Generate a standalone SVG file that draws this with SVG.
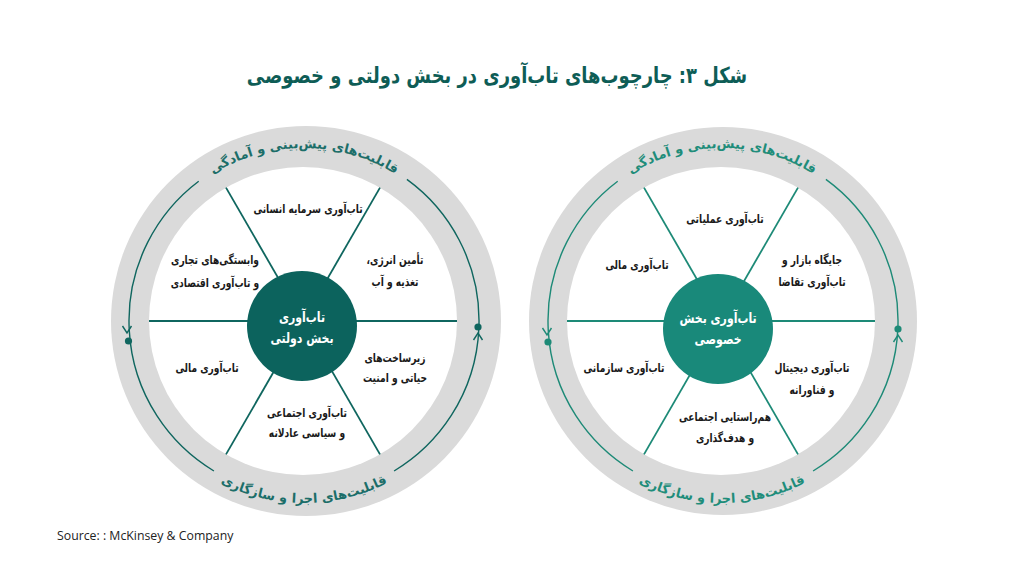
<svg xmlns="http://www.w3.org/2000/svg" width="1024" height="576" viewBox="0 0 1024 576">
<defs>
<style>
.lbl{font-family:"DejaVu Sans","Noto Sans",sans-serif;font-size:12px;font-weight:bold;fill:#1a1a1a;text-anchor:middle;direction:rtl;}
.ctr{font-family:"DejaVu Sans","Noto Sans",sans-serif;font-size:14px;font-weight:bold;fill:#ffffff;text-anchor:middle;direction:rtl;}
.ring{fill:#dadada;}
.white{fill:#ffffff;}
.sp1{stroke:#0f665f;stroke-width:1.8;fill:none;}
.sp2{stroke:#1d8a77;stroke-width:1.8;fill:none;}
.arc1{stroke:#0f665f;stroke-width:1.4;fill:none;}
.arc2{stroke:#1d8a77;stroke-width:1.4;fill:none;}
.rt1{font-family:"DejaVu Sans","Noto Sans",sans-serif;font-size:13px;font-weight:bold;fill:#1c6e69;}
.rt2{font-family:"DejaVu Sans","Noto Sans",sans-serif;font-size:13px;font-weight:bold;fill:#1f8d7a;}
</style>
<path id="top1" d="M 131 321 A 173 173 0 0 1 477 321"/>
<path id="bot1" d="M 122 321 A 182 182 0 0 0 486 321"/>
<path id="top2" d="M 549 321 A 173 173 0 0 1 895 321"/>
<path id="bot2" d="M 540 321 A 182 182 0 0 0 904 321"/>
</defs>
<rect width="1024" height="576" fill="#ffffff"/>
<g id="title" transform="translate(497,83) scale(0.815,1)">
<text x="0" y="0" font-family="DejaVu Sans, sans-serif" font-size="22" font-weight="bold" fill="#0e5d56" text-anchor="middle" direction="rtl">شکل ۳: چارچوب‌های تاب‌آوری در بخش دولتی و خصوصی</text>
</g>

<g id="public">
<circle class="ring" cx="306" cy="321" r="195"/>
<circle class="white" cx="303" cy="321" r="154"/>
<g id="public-spokes">
<line class="sp1" x1="226" y1="187.6" x2="380" y2="454.4"/>
<line class="sp1" x1="380" y1="187.6" x2="226" y2="454.4"/>
<line class="sp1" x1="149" y1="321" x2="457" y2="321"/>
</g>
<g id="public-cycle">
<path class="arc1" d="M 198.7 181.2 A 175 175 0 0 0 213.9 471"/>
<path class="arc1" d="M 394.1 471 A 175 175 0 0 0 406.9 179.4"/>
<polyline class="arc1" points="122.5,326 127,333 131.5,326"/>
<circle cx="128.5" cy="341" r="3.6" fill="#0f665f"/>
<polyline class="arc1" points="473.5,340 478,333 482.5,340"/>
<circle cx="478" cy="327" r="3.6" fill="#0f665f"/>
<text class="rt1" text-anchor="middle"><textPath href="#top1" startOffset="50%">قابلیت‌های پیش‌بینی و آمادگی</textPath></text>
<text class="rt1" text-anchor="middle"><textPath href="#bot1" startOffset="50%">قابلیت‌های اجرا و سازگاری</textPath></text>
</g>
<g id="public-center">
<circle cx="302" cy="326" r="55" fill="#0c635d"/>
<g transform="translate(302,322) scale(0.78,1)"><text class="ctr" x="0" y="0">تاب‌آوری</text></g>
<g transform="translate(302,343) scale(0.78,1)"><text class="ctr" x="0" y="0">بخش دولتی</text></g>
</g>
<g id="public-human" transform="translate(308,213) scale(0.76,1)"><text class="lbl" x="0" y="0">تاب‌آوری سرمایه انسانی</text></g>
<g id="public-energy" transform="translate(395,264) scale(0.76,1)"><text class="lbl" x="0" y="0">تأمین انرژی،</text><text class="lbl" x="0" y="22">تغذیه و آب</text></g>
<g id="public-trade" transform="translate(215,264) scale(0.76,1)"><text class="lbl" x="0" y="0">وابستگی‌های تجاری</text><text class="lbl" x="0" y="23">و تاب‌آوری اقتصادی</text></g>
<g id="public-finance" transform="translate(207,372) scale(0.76,1)"><text class="lbl" x="0" y="0">تاب‌آوری مالی</text></g>
<g id="public-infra" transform="translate(395,362) scale(0.76,1)"><text class="lbl" x="0" y="0">زیرساخت‌های</text><text class="lbl" x="0" y="20">حیاتی و امنیت</text></g>
<g id="public-social" transform="translate(307,417) scale(0.76,1)"><text class="lbl" x="0" y="0">تاب‌آوری اجتماعی</text><text class="lbl" x="0" y="20">و سیاسی عادلانه</text></g>
</g>

<g id="private">
<circle class="ring" cx="723" cy="321" r="194"/>
<circle class="white" cx="721" cy="321" r="154"/>
<g id="private-spokes">
<line class="sp2" x1="644" y1="187.6" x2="798" y2="454.4"/>
<line class="sp2" x1="798" y1="187.6" x2="644" y2="454.4"/>
<line class="sp2" x1="567" y1="321" x2="875" y2="321"/>
</g>
<g id="private-cycle">
<path class="arc2" d="M 617.7 181.2 A 175 175 0 0 0 632.9 471"/>
<path class="arc2" d="M 813.1 471 A 175 175 0 0 0 825.9 179.4"/>
<polyline class="arc2" points="542.5,328 547,335 551.5,328"/>
<circle cx="548" cy="342" r="3.6" fill="#1d8a77"/>
<polyline class="arc2" points="893.5,342 898,335 902.5,342"/>
<circle cx="898" cy="329" r="3.6" fill="#1d8a77"/>
<text class="rt2" text-anchor="middle"><textPath href="#top2" startOffset="50%">قابلیت‌های پیش‌بینی و آمادگی</textPath></text>
<text class="rt2" text-anchor="middle"><textPath href="#bot2" startOffset="50%">قابلیت‌های اجرا و سازگاری</textPath></text>
</g>
<g id="private-center">
<circle cx="718" cy="329" r="55" fill="#19897a"/>
<g transform="translate(718,323) scale(0.78,1)"><text class="ctr" x="0" y="0">تاب‌آوری بخش</text></g>
<g transform="translate(718,344) scale(0.78,1)"><text class="ctr" x="0" y="0">خصوصی</text></g>
</g>
<g id="private-ops" transform="translate(725,223) scale(0.76,1)"><text class="lbl" x="0" y="0">تاب‌آوری عملیاتی</text></g>
<g id="private-finance" transform="translate(637,269) scale(0.76,1)"><text class="lbl" x="0" y="0">تاب‌آوری مالی</text></g>
<g id="private-market" transform="translate(812,264) scale(0.76,1)"><text class="lbl" x="0" y="0">جایگاه بازار و</text><text class="lbl" x="0" y="22">تاب‌آوری تقاضا</text></g>
<g id="private-org" transform="translate(624,372) scale(0.76,1)"><text class="lbl" x="0" y="0">تاب‌آوری سازمانی</text></g>
<g id="private-digital" transform="translate(812,372) scale(0.76,1)"><text class="lbl" x="0" y="0">تاب‌آوری دیجیتال</text><text class="lbl" x="0" y="22">و فناورانه</text></g>
<g id="private-social" transform="translate(725,421) scale(0.76,1)"><text class="lbl" x="0" y="0">هم‌راستایی اجتماعی</text><text class="lbl" x="0" y="21">و هدف‌گذاری</text></g>
</g>

<text x="57" y="540" font-family="'Open Sans','Liberation Sans',sans-serif" font-size="12.3" fill="#222222">Source: : McKinsey &amp; Company</text>
</svg>
